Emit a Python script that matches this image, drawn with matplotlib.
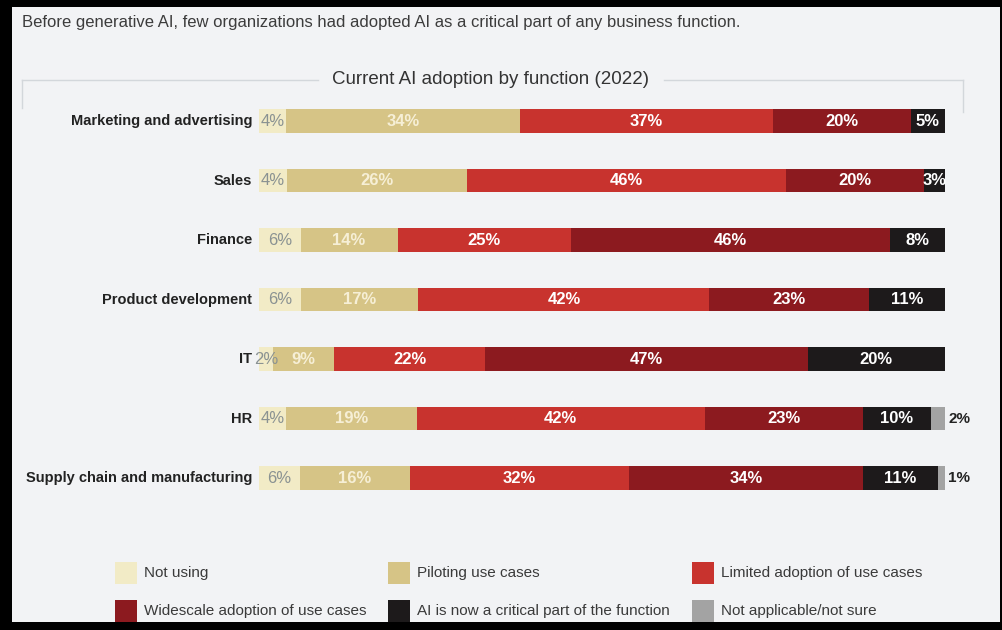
import numpy as np
import matplotlib.pyplot as plt
from matplotlib.patches import Rectangle
from matplotlib.lines import Line2D

# adoption shares by business function, 2022
functions = ["Marketing and advertising", "Sales", "Finance", "Product development",
             "IT", "HR", "Supply chain and manufacturing"]
not_using = [4, 4, 6, 6, 2, 4, 6]
piloting = [34, 26, 14, 17, 9, 19, 16]
limited = [37, 46, 25, 42, 22, 42, 32]
widescale = [20, 20, 46, 23, 47, 23, 34]
critical = [5, 3, 8, 11, 20, 10, 11]
not_sure = [0, 0, 0, 0, 0, 2, 1]

series_names = ["Not using", "Piloting use cases", "Limited adoption of use cases",
                "Widescale adoption of use cases", "AI is now a critical part of the function",
                "Not applicable/not sure"]
colors = ["#f2ebc6", "#d6c486", "#c8332e", "#8c1a1f", "#1d1a1b", "#a3a3a3"]
label_colors = ["#8a9292", "#f6efd6", "white", "white", "white", "#222222"]

W, H = 1003, 630
bg = "#f2f3f5"
FONT = ["Liberation Sans", "DejaVu Sans"]
plt.rcParams["font.family"] = FONT

fig = plt.figure(figsize=(W / 100, H / 100), dpi=100, facecolor=bg)

def fx(px):
    return px / W

def fy(py):
    return 1 - py / H

# bar area: 0..100% spans x 259..945 px, rows every 59.5 px starting at y=121
ax = fig.add_axes([fx(259), fy(507.75), fx(945) - fx(259), fy(91.25) - fy(507.75)])
ax.set_facecolor(bg)
ax.set_xlim(0, 100)
ax.set_ylim(6.5, -0.5)
ax.axis("off")

data = np.array([not_using, piloting, limited, widescale, critical, not_sure], dtype=float)
# rounded shares don't always add to 100, so each row is stretched to full width
shares = data / data.sum(axis=0) * 100
ypos = np.arange(len(functions))
left = np.zeros(len(functions))
for k in range(len(series_names)):
    vals = shares[k]
    bars = ax.barh(ypos, vals, left=left, height=0.40, color=colors[k], linewidth=0)
    for i, (b, v) in enumerate(zip(bars, vals)):
        if v == 0:
            continue
        lab = f"{int(data[k, i])}%"
        if k == 5:
            # not applicable shares sit just outside the bar
            ax.text(left[i] + v + 0.5, i, lab, ha="left", va="center",
                    fontsize=11, fontweight="bold", color=label_colors[k])
            continue
        weight = "normal" if k == 0 else "bold"
        t = ax.text(left[i] + v / 2, i, lab, ha="center", va="center",
                    fontsize=12, fontweight=weight, color=label_colors[k])
        if k == 4:
            t.set_clip_path(b)
    left += vals

for i, name in enumerate(functions):
    ax.text(-1.0, i, name, ha="right", va="center", fontsize=10.5, fontweight="bold",
            color="#222222")

# heading and framed subtitle
fig.text(fx(22), fy(22), "Before generative AI, few organizations had adopted AI as a critical part of any business function.",
         ha="left", va="center", fontsize=12, color="#3c3c3c")
fig.text(fx(491), fy(80), "Current AI adoption by function (2022)", ha="center", va="center",
         fontsize=13.5, color="#333333")
frame_col = "#d3d7db"
for xs, ys in [([22, 318], [80, 80]), ([664, 963], [80, 80]),
               ([22, 22], [80, 108]), ([963, 963], [80, 112])]:
    fig.add_artist(Line2D([fx(x) for x in xs], [fy(y) for y in ys], color=frame_col, lw=1))

# legend: three columns, two rows
col_x = [115, 388, 692]
row_y = [573, 611]
for k, name in enumerate(series_names):
    cx = col_x[k % 3]
    cy = row_y[k // 3]
    fig.add_artist(Rectangle((fx(cx), fy(cy + 11)), fx(22), 22 / H, color=colors[k],
                             transform=fig.transFigure, linewidth=0))
    fig.text(fx(cx + 29), fy(cy), name, ha="left", va="center", fontsize=11,
             color="#3a3a3a")

# black screenshot border
for x0, y0, w, h in [(0, 0, 12, H), (0, 0, W, 7), (0, 622, W, 8), (1000, 0, 3, H)]:
    fig.add_artist(Rectangle((fx(x0), fy(y0 + h)), fx(w), h / H, color="black",
                             transform=fig.transFigure, linewidth=0, zorder=10))

fig.savefig("out.png", dpi=100, facecolor=bg)
